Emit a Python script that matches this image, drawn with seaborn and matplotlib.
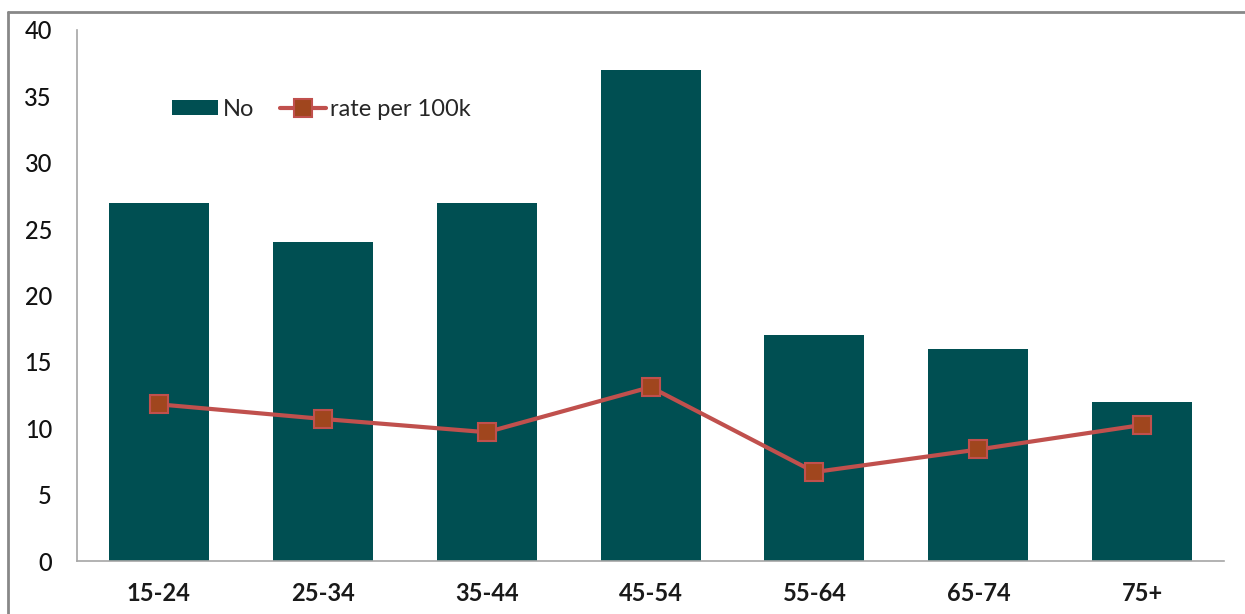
import matplotlib
matplotlib.use("Agg")
import matplotlib.pyplot as plt
from matplotlib.patches import Patch
from matplotlib.lines import Line2D
import seaborn as sns
import pandas as pd

age_groups = ["15-24", "25-34", "35-44", "45-54", "55-64", "65-74", "75+"]
counts = [27, 24, 27, 37, 17, 16, 12]
rate_per_100k = [11.8, 10.7, 9.7, 13.1, 6.7, 8.4, 10.25]
y_ticks = [0, 5, 10, 15, 20, 25, 30, 35, 40]

bar_color = "#004F52"
line_color = "#C0504D"
marker_face = "#A0461E"
axis_gray = "#A6A6A6"

sns.set_style("white")
plt.rcParams["font.family"] = ["Lato", "DejaVu Sans"]

df = pd.DataFrame({"age": age_groups, "No": counts, "rate": rate_per_100k})

fig = plt.figure(figsize=(12.45, 6.14), dpi=100)
ax = fig.add_axes([0.0618, 0.0863, 0.9215, 0.865])

sns.barplot(data=df, x="age", y="No", color=bar_color, width=0.61,
            saturation=1, ax=ax, edgecolor="none")
sns.pointplot(data=df, x="age", y="rate", color=line_color, markers="s",
              ax=ax, errorbar=None)
for ln in ax.lines:
    ln.set_linewidth(3)
    ln.set_markersize(13)
    ln.set_markerfacecolor(marker_face)
    ln.set_markeredgecolor(line_color)
    ln.set_markeredgewidth(1.5)
    ln.set_zorder(5)

ax.set_xlim(-0.5, len(age_groups) - 0.5)
ax.set_ylim(0, 40)
ax.set_yticks(y_ticks)
ax.set_yticklabels([str(t) for t in y_ticks], fontsize=17, color="#111111",
                   fontweight="medium")
ax.set_xticks(range(len(age_groups)))
ax.set_xticklabels(age_groups, fontsize=17, fontweight="bold", color="#1a1a1a")
ax.set_xlabel("")
ax.set_ylabel("")

# boundaries between categories get the x tick marks
ax.tick_params(axis="x", which="major", length=0, pad=15)
ax.set_xticks([i - 0.5 for i in range(len(age_groups) + 1)], minor=True)
ax.tick_params(axis="x", which="minor", length=8, color=axis_gray, width=1.2, direction="out")
ax.tick_params(axis="y", length=8, color=axis_gray, width=1.2, direction="out", pad=10)

for side in ["top", "right"]:
    ax.spines[side].set_visible(False)
for side in ["left", "bottom"]:
    ax.spines[side].set_color(axis_gray)
    ax.spines[side].set_linewidth(1.2)

handles = [
    Patch(facecolor=bar_color, edgecolor="none"),
    Line2D([0], [0], color=line_color, lw=3, marker="s", markersize=13,
           markerfacecolor=marker_face, markeredgecolor=line_color, markeredgewidth=1.5),
]
ax.legend(handles, ["No", "rate per 100k"], loc="center left",
          bbox_to_anchor=(0.064, 0.850), ncol=2, frameon=False, fontsize=17,
          handlelength=1.95, handleheight=0.6, handletextpad=0.2, columnspacing=1.1)

# outer frame lines on the left and top
fig.add_artist(Line2D([8 / 1245, 8 / 1245], [0, 1 - 12 / 614], transform=fig.transFigure,
                      color="#888888", lw=2))
fig.add_artist(Line2D([8 / 1245, 1], [1 - 12 / 614, 1 - 12 / 614], transform=fig.transFigure,
                      color="#888888", lw=2))

fig.savefig("out.png", dpi=100)
